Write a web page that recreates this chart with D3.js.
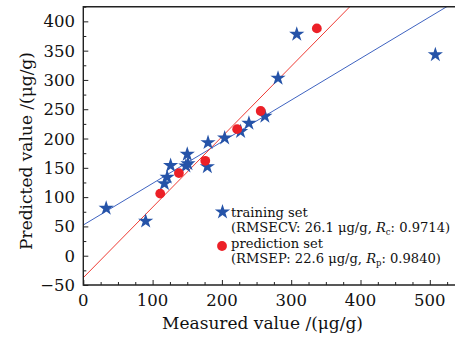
<!DOCTYPE html>
<html><head><meta charset="utf-8">
<script src="https://cdn.jsdelivr.net/npm/d3@7"></script>
<style>body{margin:0;background:#fff}svg{display:block}text{font-family:"DejaVu Serif",serif;fill:#111}</style>
</head><body><svg id="c" width="455" height="338"></svg>
<script>
// Data
const trainMeasured  = [33, 90, 117, 121, 126, 148, 151, 150, 179, 180, 204, 227, 239, 262, 281, 308, 508];
const trainPredicted = [81, 59, 123, 134, 154, 153, 157, 173, 152, 193, 201, 212, 226, 238, 303, 378, 343];
const predMeasured   = [111, 138, 176, 222, 256, 337];
const predPredicted  = [106, 141, 162, 216, 247, 388];
// regression lines: [intercept, slope]
const trainFit = [52.4, 0.7105];
const predFit  = [-37.5, 1.2025];
const xTicks = [0, 100, 200, 300, 400, 500];
const yTicks = [-50, 0, 50, 100, 150, 200, 250, 300, 350, 400];
const legendLabels = ["training set", "prediction set"];

const svg = d3.select("#c");
const L = 83.3, T = 6.7, B = 285;
const x = d3.scaleLinear().domain([0, 540]).range([L, L + 540 * 0.693]);
const y = d3.scaleLinear().domain([-50, 425]).range([B, T]);
const R = 456;

svg.append("defs").append("clipPath").attr("id", "clip")
  .append("rect").attr("x", L).attr("y", T).attr("width", R - L).attr("height", B - T);

// regression lines
function fitLine(fit, color) {
  const xs = [0, 540];
  svg.append("line").attr("clip-path", "url(#clip)")
    .attr("x1", x(xs[0])).attr("y1", y(fit[0] + fit[1] * xs[0]))
    .attr("x2", x(xs[1])).attr("y2", y(fit[0] + fit[1] * xs[1]))
    .attr("stroke", color).attr("stroke-width", 1);
}
fitLine(trainFit, "#3f63c0");
fitLine(predFit, "#ee3b34");

// points
const star = d3.symbol().type(d3.symbolStar).size(72);
svg.append("g").selectAll("path").data(trainMeasured).join("path")
  .attr("d", star).attr("transform", (d, i) => `translate(${x(d)},${y(trainPredicted[i])})`)
  .attr("fill", "#2553a8");
svg.append("g").selectAll("circle").data(predMeasured).join("circle")
  .attr("cx", d => x(d)).attr("cy", (d, i) => y(predPredicted[i])).attr("r", 4.9)
  .attr("fill", "#ec2027");

// axes
const gx = svg.append("g").attr("transform", `translate(0,${B})`);
gx.call(d3.axisBottom(x).tickValues(d3.range(0, 541, 25)).tickSize(-3).tickFormat(""));
gx.call(g => g.selectAll(".tick line").attr("stroke", "#222"));
gx.selectAll(".tick").filter(d => d % 100 === 0).select("line").attr("y2", -5);
gx.select(".domain").remove();
svg.append("g").selectAll("text").data(xTicks).join("text")
  .attr("x", d => x(d)).attr("y", 306).attr("text-anchor", "middle")
  .attr("font-size", 16.5).text(d => d);

const gy = svg.append("g").attr("transform", `translate(${L},0)`);
gy.call(d3.axisLeft(y).tickValues(d3.range(-50, 426, 25)).tickSize(-3).tickFormat(""));
gy.selectAll(".tick line").attr("stroke", "#222");
gy.selectAll(".tick").filter(d => d % 50 === 0).select("line").attr("x2", 5);
gy.select(".domain").remove();
svg.append("g").selectAll("text").data(yTicks).join("text")
  .attr("x", 75).attr("y", d => y(d) + 6).attr("text-anchor", "end")
  .attr("font-size", 16.5).text(d => d < 0 ? "\u2212" + Math.abs(d) : d);

// frame
svg.append("path").attr("d", `M${R},${T}H${L}V${B}H${R}`).attr("fill", "none")
  .attr("stroke", "#222").attr("stroke-width", 1.4);

// axis titles
svg.append("text").attr("x", 262.5).attr("y", 329).attr("text-anchor", "middle")
  .attr("font-size", 17).text("Measured value /(\u03bcg/g)");
svg.append("text").attr("transform", "translate(32,151) rotate(-90)").attr("text-anchor", "middle")
  .attr("font-size", 17).text("Predicted value /(\u03bcg/g)");

// legend
const lg = svg.append("g");
lg.append("path").attr("d", star())
  .attr("transform", "translate(222.5,212)").attr("fill", "#2553a8");
lg.append("circle").attr("cx", 222).attr("cy", 246).attr("r", 4.9).attr("fill", "#ec2027");
const fs = 13.1;
lg.append("text").attr("x", 231).attr("y", 217).attr("font-size", fs).text(legendLabels[0]);
const t2 = lg.append("text").attr("x", 231).attr("y", 232).attr("font-size", fs);
t2.append("tspan").text("(RMSECV: 26.1 \u03bcg/g, ");
t2.append("tspan").attr("font-style", "italic").text("R");
t2.append("tspan").attr("font-size", 8.5).attr("dy", 3).text("c");
t2.append("tspan").attr("dy", -3).text(": 0.9714)");
lg.append("text").attr("x", 231).attr("y", 248).attr("font-size", fs).text(legendLabels[1]);
const t4 = lg.append("text").attr("x", 231).attr("y", 263).attr("font-size", fs);
t4.append("tspan").text("(RMSEP: 22.6 \u03bcg/g, ");
t4.append("tspan").attr("font-style", "italic").text("R");
t4.append("tspan").attr("font-size", 8.5).attr("dy", 3).text("p");
t4.append("tspan").attr("dy", -3).text(": 0.9840)");
</script></body></html>
